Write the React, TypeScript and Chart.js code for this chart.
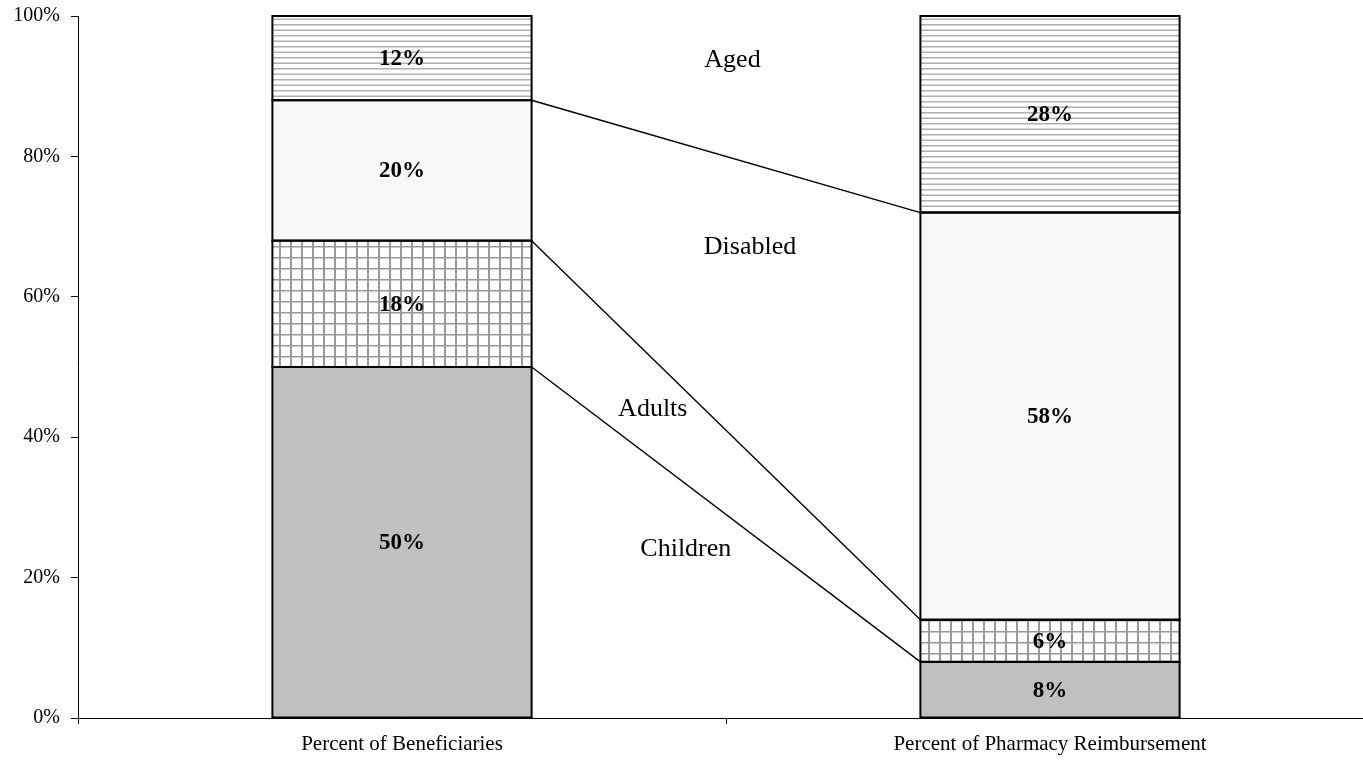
import React, { useEffect, useRef } from "react";
import { Chart, registerables } from "chart.js";

Chart.register(...registerables);

const categories = ["Percent of Beneficiaries", "Percent of Pharmacy Reimbursement"];
const seriesNames = ["Children", "Adults", "Disabled", "Aged"];
const children = [50, 8];
const adults = [18, 6];
const disabled = [20, 58];
const aged = [12, 28];
const yTicks = [0, 20, 40, 60, 80, 100];
// group label anchors: [x in category units, y in percent]
const groupLabelPos = [
  { name: "Aged", x: 0.51, y: 93.7 },
  { name: "Disabled", x: 0.537, y: 67.0 },
  { name: "Adults", x: 0.387, y: 44 },
  { name: "Children", x: 0.438, y: 24.1 },
];

const SERIF = "'Liberation Serif', 'Times New Roman', serif";

function makeAgedPattern(): CanvasPattern | string {
  const c = document.createElement("canvas");
  c.width = 11;
  c.height = 11;
  const ctx = c.getContext("2d");
  if (!ctx) return "#fff";
  ctx.fillStyle = "#ffffff";
  ctx.fillRect(0, 0, 11, 11);
  ctx.fillStyle = "#b0b0b0";
  ctx.fillRect(0, 2, 11, 1.5);
  ctx.fillRect(0, 7.5, 11, 1.5);
  return ctx.createPattern(c, "repeat") || "#fff";
}

function makeAdultsPattern(): CanvasPattern | string {
  const c = document.createElement("canvas");
  c.width = 11;
  c.height = 11;
  const ctx = c.getContext("2d");
  if (!ctx) return "#fff";
  ctx.fillStyle = "#ffffff";
  ctx.fillRect(0, 0, 11, 11);
  ctx.fillStyle = "#9a9a9a";
  ctx.fillRect(4, 0, 2, 11);
  ctx.fillRect(0, 4, 11, 1.5);
  return ctx.createPattern(c, "repeat") || "#fff";
}

const overlayPlugin = {
  id: "overlay",
  afterDatasetsDraw(chart: any) {
    const ctx = chart.ctx;
    const xs = chart.scales.x;
    const ys = chart.scales.y;
    ctx.save();
    // bar outlines
    ctx.strokeStyle = "#000";
    ctx.lineWidth = 2;
    chart.data.datasets.forEach((_ds: any, di: number) => {
      const meta = chart.getDatasetMeta(di);
      meta.data.forEach((el: any) => {
        const l = el.x - el.width / 2;
        const t = Math.min(el.y, el.base);
        const h = Math.abs(el.base - el.y);
        ctx.strokeRect(l, t, el.width, h);
      });
    });
    const meta0 = chart.getDatasetMeta(0);
    const bar0 = meta0.data[0];
    const bar1 = meta0.data[1];
    const x0 = bar0.x + bar0.width / 2;
    const x1 = bar1.x - bar1.width / 2;
    const arrs = [children, adults, disabled, aged];
    const cum = (i: number, upto: number) => {
      let s = 0;
      for (let k = 0; k <= upto; k++) s += arrs[k][i];
      return s;
    };
    ctx.lineWidth = 1.4;
    for (let k = 0; k < 3; k++) {
      ctx.beginPath();
      ctx.moveTo(x0, ys.getPixelForValue(cum(0, k)));
      ctx.lineTo(x1, ys.getPixelForValue(cum(1, k)));
      ctx.stroke();
    }
    // data labels
    ctx.font = `bold 23px ${SERIF}`;
    ctx.fillStyle = "#000";
    ctx.textAlign = "center";
    ctx.textBaseline = "middle";
    chart.data.datasets.forEach((ds: any, di: number) => {
      const meta = chart.getDatasetMeta(di);
      meta.data.forEach((el: any, i: number) => {
        const v = ds.data[i];
        const yc = (el.y + el.base) / 2;
        ctx.fillText(`${v}%`, el.x, yc + 1);
      });
    });
    // group labels
    ctx.font = `26px ${SERIF}`;
    groupLabelPos.forEach((g) => {
      const px = xs.getPixelForValue(0) + g.x * (xs.getPixelForValue(1) - xs.getPixelForValue(0));
      ctx.fillText(g.name, px, ys.getPixelForValue(g.y));
    });
    ctx.restore();
  },
};

export default function App() {
  const ref = useRef<HTMLCanvasElement | null>(null);
  useEffect(() => {
    document.body.style.overflow = "hidden";
    const canvas = ref.current;
    if (!canvas) return;
    const agedPat = makeAgedPattern();
    const adultsPat = makeAdultsPattern();
    const common = {
      borderWidth: 0,
      barPercentage: 0.4,
      categoryPercentage: 1,
    };
    const chart = new Chart(canvas, {
      type: "bar",
      data: {
        labels: categories,
        datasets: [
          { label: seriesNames[0], data: children, backgroundColor: "#c0c0c0", ...common },
          { label: seriesNames[1], data: adults, backgroundColor: adultsPat as any, ...common },
          { label: seriesNames[2], data: disabled, backgroundColor: "#f8f8f8", ...common },
          { label: seriesNames[3], data: aged, backgroundColor: agedPat as any, ...common },
        ],
      },
      options: {
        animation: false,
        responsive: false,
        maintainAspectRatio: false,
        layout: { padding: { top: 16, right: 6, left: 0, bottom: 0 } },
        plugins: { legend: { display: false }, tooltip: { enabled: false } },
        scales: {
          x: {
            stacked: true,
            offset: true,
            grid: {
              offset: true,
              drawOnChartArea: false,
              drawTicks: true,
              tickLength: 6,
              color: "#000",
            },
            border: { color: "#000", width: 1 },
            ticks: { color: "#000", font: { family: SERIF, size: 21 }, padding: 8 },
            afterFit: (s: any) => {
              s.height = 45;
              s.paddingLeft = 0;
              s.paddingRight = 0;
            },
          },
          y: {
            stacked: true,
            min: 0,
            max: 100,
            afterBuildTicks: (s: any) => {
              s.ticks = yTicks.map((v) => ({ value: v }));
            },
            grid: {
              drawOnChartArea: false,
              drawTicks: true,
              tickLength: 7,
              color: "#000",
            },
            border: { color: "#000", width: 1 },
            ticks: {
              color: "#000",
              font: { family: SERIF, size: 20 },
              padding: 11,
              callback: (v: any) => `${v}%`,
            },
            afterFit: (s: any) => {
              s.width = 78;
              s.paddingTop = 0;
              s.paddingBottom = 0;
            },
          },
        },
      },
      plugins: [overlayPlugin],
    });
    return () => chart.destroy();
  }, []);
  return (
    <div style={{ position: "absolute", left: 0, top: 0, width: 1380, height: 763 }}>
      <canvas ref={ref} width={1380} height={763} style={{ display: "block" }} />
    </div>
  );
}
